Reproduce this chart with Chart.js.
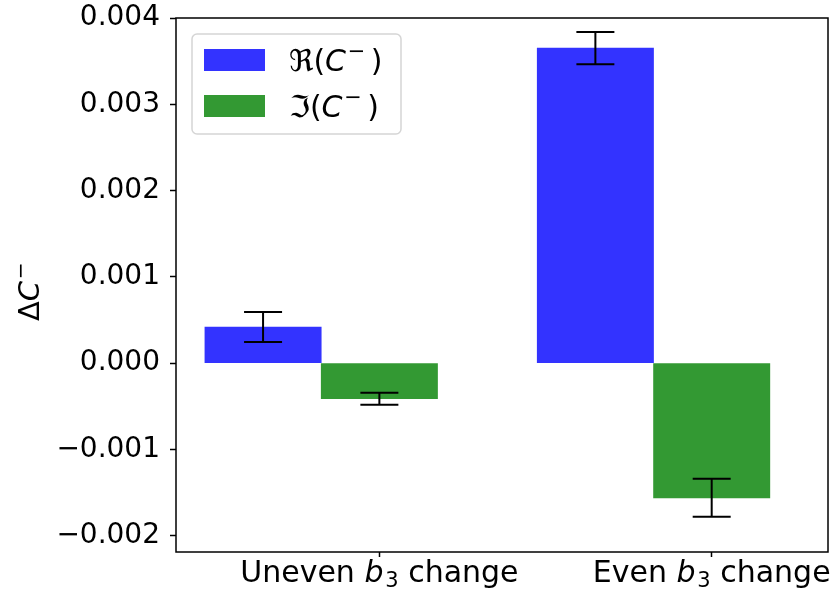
<!DOCTYPE html>
<html>
<head>
<meta charset="utf-8">
<script src="https://cdn.jsdelivr.net/npm/chart.js@4/dist/chart.umd.min.js"></script>
<style>
  html, body { margin: 0; padding: 0; background: #fff; }
  #wrap { width: 834px; height: 597px; }
</style>
</head>
<body>
<div id="wrap"><canvas id="c" width="834" height="597"></canvas></div>
<script>
// ---- data ----
const categories   = ['Uneven b\u2083 change', 'Even b\u2083 change'];
const seriesLabels = ['\u211C(C\u207B)', '\u2111(C\u207B)'];
const realValues   = [0.000417, 0.003652];
const realErrors   = [0.000174, 0.000187];
const imagValues   = [-0.000414, -0.001562];
const imagErrors   = [0.000070, 0.000220];
const yTicks       = [-0.002, -0.001, 0.000, 0.001, 0.002, 0.003, 0.004];
const yTitle       = '\u0394C\u207B';

// ---- layout / style ----
const BAR_W = 0.35;               // bar width in category units
const FONT = "'DejaVu Sans'";
const FS_Y = 28;
const FS_X = 30;
const FS_LEG = 30;
const FS_TITLE = 29;
const colors = ['rgba(0,0,255,0.8)', 'rgba(0,128,0,0.8)'];
const errorSets = [realErrors, imagErrors];

const toXY = (vals, off) => vals.map((v, i) => ({ x: i + off, y: v }));

function fmt(v) {
  const s = Math.abs(v).toFixed(3);
  return (v < -1e-12 ? '\u2212' : '') + s;
}

// math-like text: 'C' italic, 'b' before subscript italic, superscript minus, subscript 3
function drawRich(ctx, text, x, y, size) {
  let cx = x;
  ctx.textBaseline = 'alphabetic';
  ctx.textAlign = 'left';
  const chars = Array.from(text);
  chars.forEach((ch, k) => {
    const next = chars[k + 1];
    if (ch === 'C' || (ch === 'b' && next === '\u2083')) {
      ctx.font = `italic ${size}px ${FONT}`;
      ctx.fillText(ch, cx, y);
      cx += ctx.measureText(ch).width + size * 0.06;
    } else if (ch === '\u207B') {
      const s = size * 0.7;
      ctx.font = `${s}px ${FONT}`;
      ctx.fillText('\u2212', cx, y - size * 0.42);
      cx += ctx.measureText('\u2212').width + size * 0.18;
    } else if (ch === '\u2083') {
      const s = size * 0.7;
      ctx.font = `${s}px ${FONT}`;
      ctx.fillText('3', cx, y + size * 0.16);
      cx += ctx.measureText('3').width;
    } else {
      ctx.font = `${size}px ${FONT}`;
      ctx.fillText(ch, cx, y);
      cx += ctx.measureText(ch).width;
    }
  });
  return cx - x;
}
function measureRich(ctx, text, size) {
  ctx.save();
  ctx.globalAlpha = 0;
  const w = drawRich(ctx, text, 0, 0, size);
  ctx.restore();
  return w;
}

const decorPlugin = {
  id: 'decor',
  afterDatasetsDraw(chart) {
    const ctx = chart.ctx;
    const ys = chart.scales.y, xs = chart.scales.x;
    const a = chart.chartArea;
    ctx.save();
    // error bars
    ctx.strokeStyle = '#000';
    ctx.lineWidth = 2;
    chart.data.datasets.forEach((ds, di) => {
      const meta = chart.getDatasetMeta(di);
      meta.data.forEach((bar, j) => {
        const v = ds.data[j].y, e = errorSets[di][j];
        const x = bar.x;
        const y1 = ys.getPixelForValue(v + e), y2 = ys.getPixelForValue(v - e);
        const cap = 19;
        ctx.beginPath();
        ctx.moveTo(x, y1); ctx.lineTo(x, y2);
        ctx.moveTo(x - cap, y1); ctx.lineTo(x + cap, y1);
        ctx.moveTo(x - cap, y2); ctx.lineTo(x + cap, y2);
        ctx.stroke();
      });
    });
    // frame
    ctx.lineWidth = 1.5;
    ctx.strokeStyle = '#000';
    ctx.strokeRect(a.left, a.top, a.right - a.left, a.bottom - a.top);

    // x category labels (math-style b with subscript)
    ctx.fillStyle = '#000';
    categories.forEach((c, i) => {
      const px = xs.getPixelForValue(i + BAR_W);
      const w = measureRich(ctx, c, FS_X);
      drawRich(ctx, c, px - w / 2, a.bottom + 30, FS_X);
    });

    // legend
    const lx = 192, ly = 34, lw = 209, lh = 100;
    ctx.fillStyle = 'rgba(255,255,255,0.8)';
    ctx.strokeStyle = '#d5d5d5';
    ctx.lineWidth = 1.5;
    ctx.beginPath();
    ctx.roundRect(lx, ly, lw, lh, 5);
    ctx.fill();
    ctx.stroke();
    chart.data.datasets.forEach((ds, di) => {
      const py = ly + 15 + di * 46;
      ctx.fillStyle = ds.backgroundColor;
      ctx.fillRect(lx + 12, py, 61, 22);
      ctx.fillStyle = '#000';
      drawRich(ctx, ds.label, lx + 97, py + 22, FS_LEG);
    });

    // y axis title (rotated)
    ctx.save();
    ctx.translate(39, (a.top + a.bottom) / 2 + 4);
    ctx.rotate(-Math.PI / 2);
    ctx.fillStyle = '#000';
    const tw = measureRich(ctx, yTitle, FS_TITLE);
    drawRich(ctx, yTitle, -tw / 2, 0, FS_TITLE);
    ctx.restore();
    ctx.restore();
  }
};

new Chart(document.getElementById('c'), {
  type: 'bar',
  data: {
    datasets: [
      { label: seriesLabels[0], data: toXY(realValues, 0), backgroundColor: colors[0] },
      { label: seriesLabels[1], data: toXY(imagValues, BAR_W), backgroundColor: colors[1] }
    ]
  },
  options: {
    responsive: false,
    animation: false,
    devicePixelRatio: 1,
    layout: { padding: { top: 18, right: 6, left: 0, bottom: 0 } },
    datasets: { bar: { grouped: false, categoryPercentage: 1, barPercentage: 1, borderWidth: 0 } },
    plugins: { legend: { display: false }, tooltip: { enabled: false } },
    scales: {
      x: {
        type: 'linear',
        min: -0.262,
        max: 1.700,
        offset: false,
        grid: { offset: false, drawOnChartArea: false, drawTicks: true, tickLength: 5, tickWidth: 1.5, tickColor: '#000' },
        border: { display: false },
        afterBuildTicks(scale) {
          scale.ticks = categories.map((c, i) => ({ value: i + BAR_W }));
        },
        ticks: { display: false },
        afterFit(scale) { scale.height = 45; scale.paddingLeft = 0; scale.paddingRight = 0; }
      },
      y: {
        type: 'linear',
        min: -0.00219,
        max: 0.004,
        grid: { drawOnChartArea: false, drawTicks: true, tickLength: 6, tickWidth: 1.5, tickColor: '#000' },
        border: { display: false },
        afterBuildTicks(scale) {
          scale.ticks = yTicks.map(v => ({ value: v }));
        },
        ticks: {
          padding: 10,
          color: '#000',
          font: { family: 'DejaVu Sans', size: FS_Y },
          callback(value) { return fmt(value); }
        },
        afterFit(scale) { scale.width = 176; scale.paddingTop = 0; scale.paddingBottom = 0; }
      }
    }
  },
  plugins: [decorPlugin]
});
</script>
</body>
</html>
